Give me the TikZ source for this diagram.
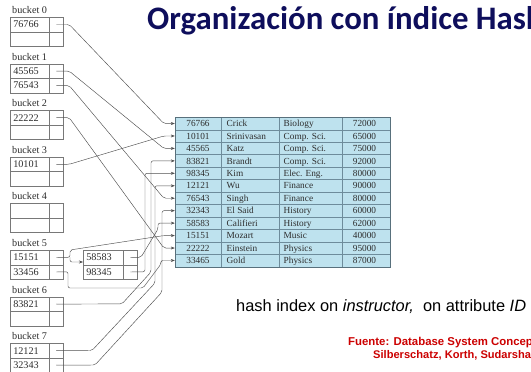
\documentclass[tikz,border=0pt]{standalone}
\usepackage{fontspec}
\setmainfont{Liberation Serif}
\newfontfamily\sansf{Liberation Sans}
\newfontfamily\titlef{Carlito}
\usetikzlibrary{arrows.meta}
\definecolor{navy}{RGB}{14,14,92}
\definecolor{boxline}{RGB}{120,120,120}
\definecolor{tfill}{RGB}{190,226,238}
\definecolor{tline}{RGB}{110,140,155}
\definecolor{conncol}{RGB}{80,80,80}
\definecolor{txt}{RGB}{45,45,45}
\definecolor{srcred}{RGB}{204,0,0}
\tikzset{
  kcell/.style={draw=boxline, line width=0.5pt, fill=white, minimum width=39pt, minimum height=14.5pt,
    inner xsep=3pt, inner ysep=0pt, text width=33pt, align=left, text=txt, font=\fontsize{10.2}{11}\selectfont},
  ocell/.style={kcell, minimum width=40pt, text width=34pt},
  pcell/.style={draw=boxline, line width=0.5pt, fill=white, minimum width=14pt, minimum height=14.5pt, inner sep=0pt},
  blabel/.style={anchor=base west, inner sep=0pt, text=txt, font=\fontsize{10.2}{11}\selectfont},
  rowbox/.style={draw=tline, line width=0.4pt, fill=tfill, minimum width=215pt, minimum height=12.45pt, inner sep=0pt},
  tcell/.style={inner sep=0pt, text=txt, font=\fontsize{9.3}{10}\selectfont},
  conn/.style={draw=conncol, line width=0.45pt, rounded corners=2pt, -{Stealth[length=4pt,width=3pt]}},
  plain/.style={draw=conncol, line width=0.45pt, rounded corners=2pt}
}
\begin{document}
\begin{tikzpicture}[x=1pt,y=-1pt]
\useasboundingbox (0,0) rectangle (531,372);
\clip (0,0) rectangle (531,372);
\fill[white] (0,0) rectangle (531,372);

% title
\node[anchor=base west, inner sep=0pt, text=navy, font=\titlef\bfseries\fontsize{32.8}{38}\selectfont] (title) at (147,29.5) {Organización con índice Hash};

% buckets
\foreach \k/\ka/\kb in {0/76766/,1/45565/76543,2/22222/,3/10101/,4//,5/15151/33456,6/83821/,7/12121/32343} {
  \pgfmathsetmacro\btop{17+46.6*\k}
  \node[blabel] (lab\k) at (12,\btop-3.5) {bucket \k};
  \node[kcell, anchor=north west] (ka\k) at (10,\btop) {\ka};
  \node[pcell, anchor=north west] (pa\k) at (49,\btop) {};
  \node[kcell, anchor=north west] (kb\k) at (10,\btop+14.5) {\kb};
  \node[pcell, anchor=north west] (pb\k) at (49,\btop+14.5) {};
}
% overflow bucket
\node[ocell, anchor=north west] (ova) at (83,250) {58583};
\node[pcell, anchor=north west] (ovpa) at (123,250) {};
\node[ocell, anchor=north west] (ovb) at (83,264.5) {98345};
\node[pcell, anchor=north west] (ovpb) at (123,264.5) {};

% table
\foreach \i/\vid/\vnm/\vdept/\vsal in {1/76766/Crick/Biology/72000,2/10101/Srinivasan/Comp. Sci./65000,3/45565/Katz/Comp. Sci./75000,4/83821/Brandt/Comp. Sci./92000,5/98345/Kim/Elec. Eng./80000,6/12121/Wu/Finance/90000,7/76543/Singh/Finance/80000,8/32343/El Said/History/60000,9/58583/Califieri/History/62000,10/15151/Mozart/Music/40000,11/22222/Einstein/Physics/95000,12/33465/Gold/Physics/87000} {
  \pgfmathsetmacro\rc{117.3+(\i-0.5)*12.45}
  \node[rowbox] (r\i) at (282.5,\rc) {};
  \node[tcell, anchor=base] (id\i) at (198,\rc+3.2) {\vid};
  \node[tcell, anchor=base west] (nm\i) at (226.5,\rc+3.2) {\vnm};
  \node[tcell, anchor=base west] (dp\i) at (283.5,\rc+3.2) {\vdept};
  \node[tcell, anchor=base] (sl\i) at (364.5,\rc+3.2) {\vsal};
}
\foreach \x in {221,279,342} \draw[tline, line width=0.5pt] (\x,117.3) -- (\x,266.7);
\draw[tline!80!black, line width=0.6pt] (r1.north west) rectangle (r12.south east);

% connectors
\draw[conn] (pa0.center) -- ++(13,0) -- ([xshift=-11pt]r1.west) -- (r1.west);
\draw[conn] (pa1.center) -- ++(13,0) -- ([xshift=-11pt]r3.west) -- (r3.west);
\draw[conn] (pb1.center) -- ++(13,0) -- ([xshift=-11pt]r7.west) -- (r7.west);
\draw[conn] (pa2.center) -- ++(13,0) -- ([xshift=-11pt]r11.west) -- (r11.west);
\draw[conn] (pa3.center) -- ++(13,0) -- ([xshift=-11pt]r2.west) -- (r2.west);
\draw[conn] (pa5.center) -- (70,257.25) -- (70,250) -- ([xshift=-11pt]r10.west) -- (r10.west);
\draw[conn] (70,257.25) -- (70,262) -- ([yshift=-4.5pt]ova.west);
\draw[conn] (pb5.center) -- (68,271.75) -- (68,288) -- (143,288) -- (161,264) |- (r12.west);
\draw[conn] (ovpa.center) -- (141,257.25) -- (158,229) |- (r9.west);
\draw[conn] (ovpb.center) -- (145,271.75) |- (r5.west);
\draw[conn] (pa6.center) -- (122,303.9) -- (151,272) |- (r4.west);
\draw[conn] (pa7.center) -- (92,350.5) -- (155,283) |- (r6.west);
\draw[conn] (pb7.center) -- (95,365) -- (162,292) |- (r8.west);

% captions
\node[anchor=base west, inner sep=0pt, text=black, font=\sansf\fontsize{16.4}{18}\selectfont] (cap) at (236,311) {hash index on \textit{instructor,}\ \ on attribute \textit{ID}};
\node[anchor=base west, inner sep=0pt, text=srcred, font=\sansf\bfseries\fontsize{11.4}{12}\selectfont] (src1) at (348,345.7) {Fuente: Database System Concepts};
\node[anchor=base west, inner sep=0pt, text=srcred, font=\sansf\bfseries\fontsize{11.1}{12}\selectfont] (src2) at (373,358.7) {Silberschatz, Korth, Sudarshan};
\end{tikzpicture}
\end{document}
